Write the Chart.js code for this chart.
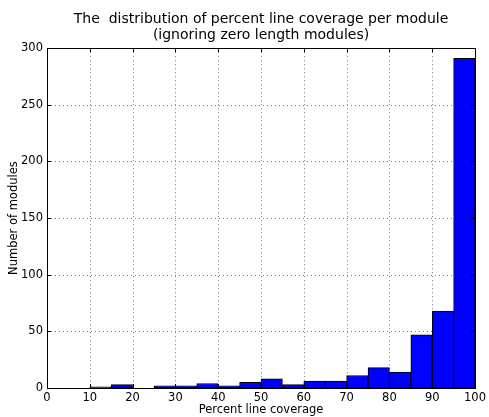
<!DOCTYPE html>
<html>
<head>
<meta charset="utf-8">
<script src="https://cdn.jsdelivr.net/npm/chart.js@4/dist/chart.umd.min.js"></script>
<style>
  html, body { margin: 0; padding: 0; background: #ffffff; }
  #wrap { width: 489px; height: 417px; }
</style>
</head>
<body>
<div id="wrap"><canvas id="c" width="489" height="417"></canvas></div>
<script>
// Histogram bins: lower edge of each 5% coverage bin
const binStarts = [0, 5, 10, 15, 20, 25, 30, 35, 40, 45, 50, 55, 60, 65, 70, 75, 80, 85, 90, 95];
const binWidth = 5;
// Number of modules falling in each bin
const moduleCounts = [0, 0, 1, 3, 0, 2, 2, 4, 2, 5, 8, 3, 6, 6, 11, 18, 14, 47, 68, 291];
const xTicks = [0, 10, 20, 30, 40, 50, 60, 70, 80, 90, 100];
const yTicks = [0, 50, 100, 150, 200, 250, 300];

const points = binStarts.map((s, i) => ({ x: s + binWidth / 2, y: moduleCounts[i] }));

const FONT = '"DejaVu Sans", sans-serif';

// Dotted grid behind the bars
const dottedGrid = {
  id: 'dottedGrid',
  beforeDatasetsDraw(chart) {
    const { ctx, chartArea: a, scales } = chart;
    ctx.save();
    ctx.strokeStyle = '#7a7a7a';
    ctx.lineWidth = 1;
    ctx.setLineDash([1, 3]);
    ctx.beginPath();
    xTicks.slice(1, -1).forEach(v => {
      const px = Math.round(scales.x.getPixelForValue(v)) + 0.5;
      ctx.moveTo(px, a.top); ctx.lineTo(px, a.bottom);
    });
    yTicks.slice(1, -1).forEach(v => {
      const py = Math.round(scales.y.getPixelForValue(v)) + 0.5;
      ctx.moveTo(a.left, py); ctx.lineTo(a.right, py);
    });
    ctx.stroke();
    ctx.restore();
  }
};

// Frame around the plot area plus inward tick marks on all four sides
const framePlugin = {
  id: 'frame',
  afterDatasetsDraw(chart) {
    const { ctx, chartArea: a, scales } = chart;
    ctx.save();
    ctx.strokeStyle = '#000';
    ctx.lineWidth = 1;
    const len = 4;
    ctx.beginPath();
    xTicks.forEach(v => {
      const px = Math.round(scales.x.getPixelForValue(v)) + 0.5;
      ctx.moveTo(px, a.bottom); ctx.lineTo(px, a.bottom - len);
      ctx.moveTo(px, a.top); ctx.lineTo(px, a.top + len);
    });
    yTicks.forEach(v => {
      const py = Math.round(scales.y.getPixelForValue(v)) + 0.5;
      ctx.moveTo(a.left, py); ctx.lineTo(a.left + len, py);
      ctx.moveTo(a.right, py); ctx.lineTo(a.right - len, py);
    });
    ctx.stroke();
    ctx.strokeRect(Math.round(a.left) + 0.5, Math.round(a.top) + 0.5,
                   Math.round(a.right - a.left), Math.round(a.bottom - a.top));
    ctx.restore();
  }
};

new Chart(document.getElementById('c'), {
  type: 'bar',
  data: {
    datasets: [{
      data: points,
      backgroundColor: '#0000ff',
      borderColor: '#000000',
      borderWidth: 1,
      barPercentage: 1.0,
      categoryPercentage: 1.0,
      borderSkipped: false
    }]
  },
  options: {
    responsive: false,
    animation: false,
    layout: { padding: { left: 0, right: 9, top: 0, bottom: 0 } },
    plugins: {
      legend: { display: false },
      tooltip: { enabled: false },
      title: {
        display: true,
        fullSize: false,
        text: ['The  distribution of percent line coverage per module', '(ignoring zero length modules)'],
        color: '#000',
        font: { family: FONT, size: 14, weight: 'normal', lineHeight: 1.15 },
        padding: { top: 11, bottom: 5 }
      }
    },
    scales: {
      x: {
        type: 'linear',
        min: 0, max: 100,
        offset: false,
        afterBuildTicks: s => { s.ticks = xTicks.map(v => ({ value: v })); },
        afterFit: s => { s.height = 29; },
        ticks: { color: '#000', font: { family: FONT, size: 11.5 }, padding: 3, maxRotation: 0 },
        grid: { display: false, drawTicks: false },
        border: { display: false },
        title: { display: true, text: 'Percent line coverage', color: '#000',
                 font: { family: FONT, size: 11.5 }, padding: { top: 0, bottom: 0 } }
      },
      y: {
        type: 'linear',
        min: 0, max: 300,
        afterBuildTicks: s => { s.ticks = yTicks.map(v => ({ value: v })); },
        afterFit: s => { s.width = 47; },
        ticks: { color: '#000', font: { family: FONT, size: 11.5 }, padding: 4 },
        grid: { display: false, drawTicks: false },
        border: { display: false },
        title: { display: true, text: 'Number of modules', color: '#000',
                 font: { family: FONT, size: 11.5 }, padding: { top: 7, bottom: 0 } }
      }
    }
  },
  plugins: [dottedGrid, framePlugin]
});
</script>
</body>
</html>
